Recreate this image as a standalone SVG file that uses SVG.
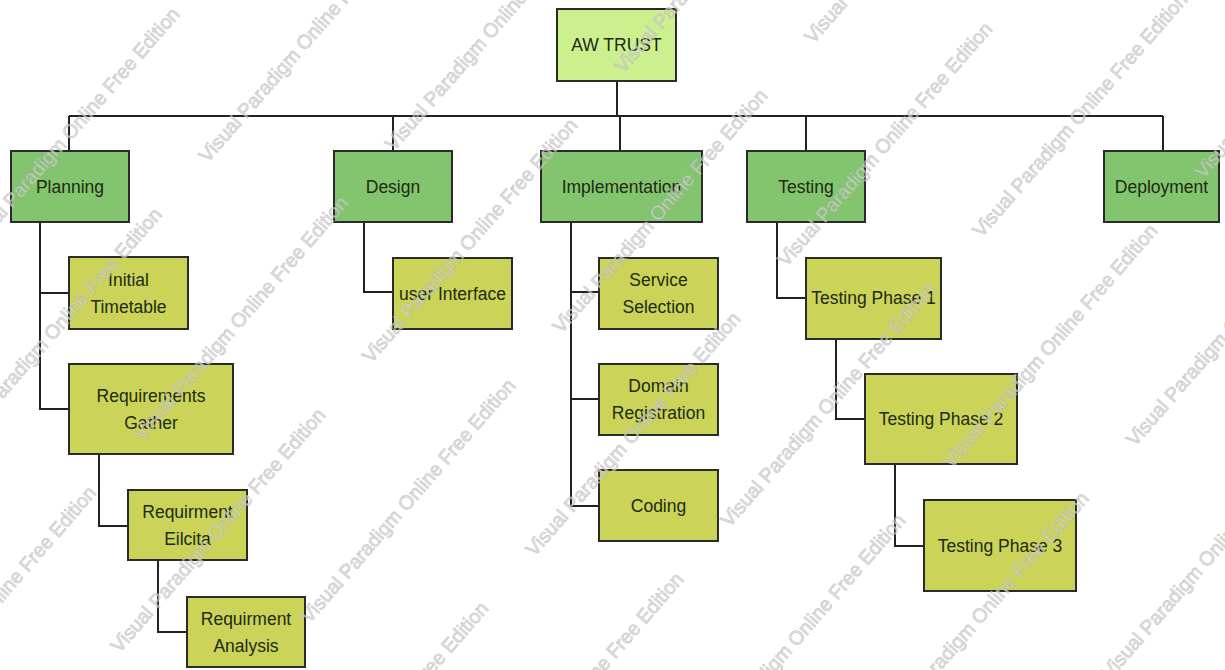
<svg xmlns="http://www.w3.org/2000/svg" width="1225" height="670" viewBox="0 0 1225 670">
  <style>
    .box { stroke: #2b2b2b; stroke-width: 2; }
    .root { fill: #cdf08f; }
    .phase { fill: #82c56e; }
    .task { fill: #cbd458; }
    .lbl { font-family: "Liberation Sans", Arial, sans-serif; font-size: 17.5px; fill: #1e2a12; text-anchor: middle; }
    .wire { fill: none; stroke: #222; stroke-width: 2; }
    .wm { font-family: "Liberation Sans", Arial, sans-serif; font-size: 19.6px; fill: #dadada; stroke: #b4b4b4; stroke-width: 0.6; opacity: 0.75; }
  </style>

  <rect width="1225" height="670" fill="#ffffff"/>

  <!-- connectors -->
  <g id="connectors" class="wire">
    <path d="M617,81 V116 M69,116 H1163 M69,116 V151 M393,116 V151 M620,116 V151 M806,116 V151 M1163,116 V151"/>
    <path d="M40,222 V409 H69 M40,293 H69"/>
    <path d="M99,454 V526 H128"/>
    <path d="M158,560 V632 H187"/>
    <path d="M364,222 V292 H393"/>
    <path d="M571,222 V506 H599 M571,292 H599 M571,399 H599"/>
    <path d="M777,222 V298 H806"/>
    <path d="M836,339 V419 H865"/>
    <path d="M895,464 V546 H924"/>
  </g>

  <!-- root -->
  <g id="aw-trust">
    <rect class="box root" x="557" y="9" width="119" height="72"/>
    <text class="lbl" x="616.5" y="51">AW TRUST</text>
  </g>

  <!-- phases -->
  <g id="planning">
    <rect class="box phase" x="11" y="151" width="118" height="71"/>
    <text class="lbl" x="70" y="193">Planning</text>
  </g>
  <g id="design">
    <rect class="box phase" x="334" y="151" width="118" height="71"/>
    <text class="lbl" x="393" y="193">Design</text>
  </g>
  <g id="implementation">
    <rect class="box phase" x="541" y="151" width="161" height="71"/>
    <text class="lbl" x="621.5" y="193">Implementation</text>
  </g>
  <g id="testing">
    <rect class="box phase" x="747" y="151" width="118" height="71"/>
    <text class="lbl" x="806" y="193">Testing</text>
  </g>
  <g id="deployment">
    <rect class="box phase" x="1104" y="151" width="115" height="71"/>
    <text class="lbl" x="1161.5" y="193">Deployment</text>
  </g>

  <!-- planning tasks -->
  <g id="initial-timetable">
    <rect class="box task" x="69" y="257" width="119" height="72"/>
    <text class="lbl" x="128.5" y="286">Initial</text>
    <text class="lbl" x="128.5" y="313">Timetable</text>
  </g>
  <g id="requirements-gather">
    <rect class="box task" x="69" y="364" width="164" height="90"/>
    <text class="lbl" x="151" y="402">Requirements</text>
    <text class="lbl" x="151" y="429">Gather</text>
  </g>
  <g id="requirment-eilcita">
    <rect class="box task" x="128" y="490" width="119" height="70"/>
    <text class="lbl" x="187.5" y="518">Requirment</text>
    <text class="lbl" x="187.5" y="545">Eilcita</text>
  </g>
  <g id="requirment-analysis">
    <rect class="box task" x="187" y="597" width="118" height="70"/>
    <text class="lbl" x="246" y="625">Requirment</text>
    <text class="lbl" x="246" y="652">Analysis</text>
  </g>

  <!-- design task -->
  <g id="user-interface">
    <rect class="box task" x="393" y="258" width="119" height="71"/>
    <text class="lbl" x="452.5" y="300">user Interface</text>
  </g>

  <!-- implementation tasks -->
  <g id="service-selection">
    <rect class="box task" x="599" y="258" width="119" height="71"/>
    <text class="lbl" x="658.5" y="286">Service</text>
    <text class="lbl" x="658.5" y="313">Selection</text>
  </g>
  <g id="domain-registration">
    <rect class="box task" x="599" y="364" width="119" height="71"/>
    <text class="lbl" x="658.5" y="392">Domain</text>
    <text class="lbl" x="658.5" y="419">Registration</text>
  </g>
  <g id="coding">
    <rect class="box task" x="599" y="470" width="119" height="71"/>
    <text class="lbl" x="658.5" y="512">Coding</text>
  </g>

  <!-- testing tasks -->
  <g id="testing-phase-1">
    <rect class="box task" x="806" y="258" width="135" height="81"/>
    <text class="lbl" x="873.5" y="304">Testing Phase 1</text>
  </g>
  <g id="testing-phase-2">
    <rect class="box task" x="865" y="374" width="152" height="90"/>
    <text class="lbl" x="941" y="425">Testing Phase 2</text>
  </g>
  <g id="testing-phase-3">
    <rect class="box task" x="924" y="500" width="152" height="91"/>
    <text class="lbl" x="1000" y="552">Testing Phase 3</text>
  </g>

  <!-- editor watermark, laid along rotated rows -->
  <g id="watermark" class="wm" transform="rotate(-49)">
    <text x="-208" y="146">Visual Paradigm Online Free Edition</text>
    <text x="13" y="264">Visual Paradigm Online Free Edition</text>
    <text x="-371" y="264">Visual Paradigm Online Free Edition</text>
    <text x="144" y="397">Visual Paradigm Online Free Edition</text>
    <text x="-240" y="397">Visual Paradigm Online Free Edition</text>
    <text x="-624" y="397">Visual Paradigm Online Free Edition</text>
    <text x="-31" y="519">Visual Paradigm Online Free Edition</text>
    <text x="353" y="519">Visual Paradigm Online Free Edition</text>
    <text x="-415" y="519">Visual Paradigm Online Free Edition</text>
    <text x="116" y="643">Visual Paradigm Online Free Edition</text>
    <text x="500" y="643">Visual Paradigm Online Free Edition</text>
    <text x="-268" y="643">Visual Paradigm Online Free Edition</text>
    <text x="314" y="769">Visual Paradigm Online Free Edition</text>
    <text x="-70" y="769">Visual Paradigm Online Free Edition</text>
    <text x="-454" y="769">Visual Paradigm Online Free Edition</text>
    <text x="80" y="897">Visual Paradigm Online Free Edition</text>
    <text x="464" y="897">Visual Paradigm Online Free Edition</text>
    <text x="-304" y="897">Visual Paradigm Online Free Edition</text>
    <text x="270" y="1026">Visual Paradigm Online Free Edition</text>
    <text x="654" y="1026">Visual Paradigm Online Free Edition</text>
    <text x="-114" y="1026">Visual Paradigm Online Free Edition</text>
    <text x="407" y="1150">Visual Paradigm Online Free Edition</text>
    <text x="23" y="1150">Visual Paradigm Online Free Edition</text>
    <text x="215" y="1284">Visual Paradigm Online Free Edition</text>
  </g>
</svg>
